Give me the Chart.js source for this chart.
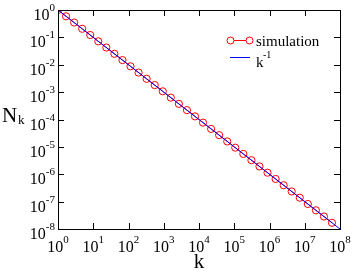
<!DOCTYPE html>
<html>
<head>
<meta charset="utf-8">
<script src="https://cdn.jsdelivr.net/npm/chart.js@4/dist/chart.umd.min.js"></script>
<style>
  html, body { margin: 0; padding: 0; background: #fff; }
  #wrap { width: 353px; height: 271px; }
</style>
</head>
<body>
<div id="wrap"><canvas id="nkChart" width="353" height="271"></canvas></div>
<script>
// simulation points
const kValues = [1, 1.69, 2.87, 4.85, 8.21, 13.9, 23.5, 39.8, 67.4, 114, 193, 327, 554, 937, 1587, 2685, 4546, 7695,
    1.30e4, 2.21e4, 3.73e4, 6.32e4, 1.07e5, 1.81e5, 3.07e5, 5.19e5, 8.78e5, 1.49e6, 2.52e6, 4.26e6, 7.21e6,
    1.22e7, 2.07e7, 3.50e7, 5.92e7];
const nkValues = [1, 0.59, 0.349, 0.206, 0.122, 0.0719, 0.0426, 0.0251, 0.0148, 0.00877, 0.00518, 0.00306,
    0.00181, 0.00107, 6.30e-4, 3.72e-4, 2.20e-4, 1.30e-4, 7.68e-5, 4.53e-5, 2.68e-5, 1.58e-5, 9.35e-6,
    5.52e-6, 3.26e-6, 1.93e-6, 1.14e-6, 6.73e-7, 3.97e-7, 2.35e-7, 1.39e-7, 8.20e-8, 4.83e-8, 2.86e-8, 1.69e-8];

// k^-1 reference line
const fitK = [1, 1e8];
const fitN = [1, 1e-8];

// tick exponents
const xTickExps = [0, 1, 2, 3, 4, 5, 6, 7, 8];
const yTickExps = [0, -1, -2, -3, -4, -5, -6, -7, -8];

const serif = '"Liberation Serif", "DejaVu Serif", serif';

function drawPow(ctx, x, y, exp, align) {
    ctx.font = '16px ' + serif;
    const wBase = ctx.measureText('10').width;
    ctx.font = '11px ' + serif;
    const wExp = ctx.measureText(String(exp)).width;
    const total = wBase + wExp;
    let start = align === 'right' ? x - total : x - total / 2;
    ctx.textAlign = 'left';
    ctx.textBaseline = 'alphabetic';
    ctx.font = '16px ' + serif;
    ctx.fillText('10', start, y);
    ctx.font = '11px ' + serif;
    ctx.fillText(String(exp), start + wBase, y - 9);
}

const framePlugin = {
    id: 'frame',
    afterDraw(chart) {
        const ctx = chart.ctx;
        const a = chart.chartArea;
        const xs = chart.scales.x;
        const ys = chart.scales.y;
        ctx.save();
        ctx.strokeStyle = '#000';
        ctx.lineWidth = 1;
        ctx.strokeRect(Math.round(a.left) + 0.5, Math.round(a.top) + 0.5,
            Math.round(a.right - a.left), Math.round(a.bottom - a.top));

        // inward tick marks on all four sides
        ctx.beginPath();
        xTickExps.forEach(e => {
            const px = Math.round(xs.getPixelForValue(Math.pow(10, e))) + 0.5;
            ctx.moveTo(px, a.bottom); ctx.lineTo(px, a.bottom - 6);
            ctx.moveTo(px, a.top); ctx.lineTo(px, a.top + 6);
        });
        yTickExps.forEach(e => {
            const py = Math.round(ys.getPixelForValue(Math.pow(10, e))) + 0.5;
            ctx.moveTo(a.left, py); ctx.lineTo(a.left + 6, py);
            ctx.moveTo(a.right, py); ctx.lineTo(a.right - 6, py);
        });
        ctx.stroke();

        ctx.fillStyle = '#000';
        xTickExps.forEach(e => {
            drawPow(ctx, xs.getPixelForValue(Math.pow(10, e)), a.bottom + 23, e, 'center');
        });
        yTickExps.forEach(e => {
            drawPow(ctx, a.left - 3, ys.getPixelForValue(Math.pow(10, e)) + 10, e, 'right');
        });

        // axis titles
        ctx.textAlign = 'center';
        ctx.font = '21px ' + serif;
        ctx.fillText('k', (a.left + a.right) / 2, 268);
        ctx.textAlign = 'left';
        ctx.fillText('N', 2, 122);
        ctx.font = '13px ' + serif;
        ctx.fillText('k', 18, 124);

        // legend
        ctx.strokeStyle = 'red';
        ctx.beginPath();
        ctx.moveTo(230, 40.5); ctx.lineTo(250, 40.5);
        ctx.stroke();
        [230.5, 249.5].forEach(cx => {
            ctx.beginPath();
            ctx.arc(cx, 40.5, 3.5, 0, Math.PI * 2);
            ctx.fillStyle = '#fff';
            ctx.fill();
            ctx.stroke();
        });
        ctx.strokeStyle = 'blue';
        ctx.beginPath();
        ctx.moveTo(230, 57.5); ctx.lineTo(250, 57.5);
        ctx.stroke();
        ctx.fillStyle = '#000';
        ctx.font = '15px ' + serif;
        ctx.fillText('simulation', 256, 46);
        ctx.fillText('k', 256, 67);
        ctx.font = '10px ' + serif;
        ctx.fillText('-1', 263, 58);
        ctx.restore();
    }
};

const ctx = document.getElementById('nkChart').getContext('2d');
new Chart(ctx, {
    type: 'scatter',
    data: {
        datasets: [{
            label: 'k-1',
            data: fitK.map((k, i) => ({ x: k, y: fitN[i] })),
            showLine: true,
            borderColor: 'blue',
            borderWidth: 1,
            pointRadius: 0
        }, {
            label: 'simulation',
            data: kValues.map((k, i) => ({ x: k, y: nkValues[i] })),
            showLine: true,
            borderColor: 'red',
            borderWidth: 1,
            pointRadius: 3.6,
            pointBorderColor: 'red',
            pointBackgroundColor: 'rgba(0,0,0,0)',
            pointBorderWidth: 1
        }]
    },
    options: {
        responsive: false,
        animation: false,
        events: [],
        layout: { padding: { left: 58, top: 10, right: 13, bottom: 42 } },
        plugins: { legend: { display: false }, tooltip: { enabled: false } },
        scales: {
            x: { type: 'logarithmic', min: 1, max: 1e8, display: false },
            y: { type: 'logarithmic', min: 1e-8, max: 1, display: false }
        }
    },
    plugins: [framePlugin]
});
</script>
</body>
</html>
